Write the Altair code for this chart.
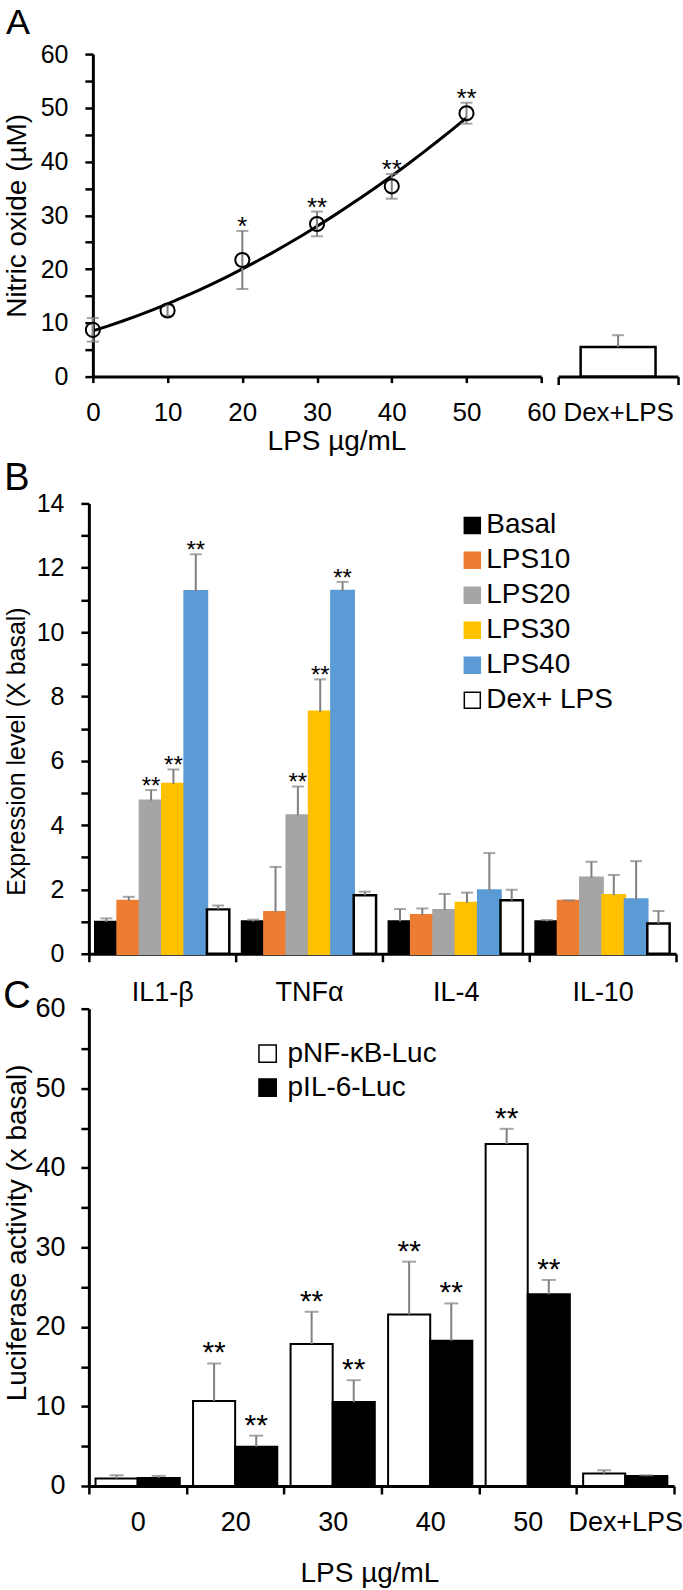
import altair as alt
import pandas as pd

FONT = "Liberation Sans"
GRAY = "#808080"
L = 89  # left edge of every plot area, in page pixels (used only for annotation offsets)

# ---------------- Panel A data ----------------
a_dose = [0, 10, 20, 30, 40, 50]
a_no = [8.7, 12.3, 21.7, 28.4, 35.4, 49.0]
a_sd = [2.2, 1.0, 5.4, 2.3, 2.3, 1.95]
a_sig = ["", "", "*", "**", "**", "**"]
a_dex_label = ["Dex+LPS"]
a_dex_no = [5.5]
a_dex_sd = [2.2]

# ---------------- Panel B data ----------------
b_genes = ["IL1-β", "TNFα", "IL-4", "IL-10"]
b_series = ["Basal", "LPS10", "LPS20", "LPS30", "LPS40", "Dex+ LPS"]
b_fill = ["#000000", "#ED7D31", "#A5A5A5", "#FFC000", "#5B9BD5", "#FFFFFF"]
b_stroke = ["#000000", "#ED7D31", "#A5A5A5", "#FFC000", "#5B9BD5", "#000000"]
b_mean_il1b = [0.99, 1.64, 4.76, 5.28, 11.27, 1.38]
b_mean_tnfa = [1.00, 1.29, 4.30, 7.52, 11.28, 1.82]
b_mean_il4 = [1.00, 1.20, 1.35, 1.58, 1.97, 1.66]
b_mean_il10 = [1.00, 1.64, 2.36, 1.82, 1.69, 0.94]
b_top_il1b = [1.10, 1.77, 5.09, 5.73, 12.42, 1.50]
b_top_tnfa = [1.06, 2.70, 5.20, 8.53, 11.56, 1.93]
b_top_il4 = [1.39, 1.41, 1.86, 1.90, 3.13, 1.99]
b_top_il10 = [1.05, 1.66, 2.86, 2.45, 2.88, 1.33]
b_sig_il1b = ["", "", "**", "**", "**", ""]
b_sig_tnfa = ["", "", "**", "**", "**", ""]
b_sig_il4 = ["", "", "", "", "", ""]
b_sig_il10 = ["", "", "", "", "", ""]

# ---------------- Panel C data ----------------
c_cats = ["0", "20", "30", "40", "50", "Dex+LPS"]
c_series = ["pNF-κB-Luc", "pIL-6-Luc"]
c_nfkb = [0.93, 10.68, 17.85, 21.56, 43.0, 1.56]
c_nfkb_top = [1.35, 15.4, 21.9, 28.2, 44.9, 1.98]
c_il6 = [1.01, 4.94, 10.55, 18.27, 24.1, 1.27]
c_il6_top = [1.27, 6.33, 13.3, 22.95, 25.9, 1.35]
c_sig_nfkb = ["", "**", "**", "**", "**", ""]
c_sig_il6 = ["", "**", "**", "**", "**", ""]

# ---------------- tables ----------------
dfA = pd.DataFrame({"dose": a_dose, "no": a_no, "sd": a_sd, "sig": a_sig})
dfA["lo"] = dfA["no"] - dfA["sd"]
dfA["hi"] = dfA["no"] + dfA["sd"]
dfAd = pd.DataFrame({"grp": a_dex_label, "no": a_dex_no, "sd": a_dex_sd})
dfAd["hi"] = dfAd["no"] + dfAd["sd"]

rows = []
for g, m, t, s in zip(b_genes,
                      [b_mean_il1b, b_mean_tnfa, b_mean_il4, b_mean_il10],
                      [b_top_il1b, b_top_tnfa, b_top_il4, b_top_il10],
                      [b_sig_il1b, b_sig_tnfa, b_sig_il4, b_sig_il10]):
    for ser, mv, tv, sv in zip(b_series, m, t, s):
        rows.append({"gene": g, "serB": ser, "meanB": mv, "topB": tv, "sigB": sv})
dfB = pd.DataFrame(rows)

rows = []
for ser, m, t, s in zip(c_series, [c_nfkb, c_il6], [c_nfkb_top, c_il6_top], [c_sig_nfkb, c_sig_il6]):
    for c, mv, tv, sv in zip(c_cats, m, t, s):
        rows.append({"cat": c, "serC": ser, "meanC": mv, "topC": tv, "sigC": sv})
dfC = pd.DataFrame(rows)


def letter(ch, dx, dy, size):
    return alt.Chart(pd.DataFrame({"t": [ch]})).mark_text(
        fontSize=size, font=FONT, align="center", baseline="alphabetic", color="black"
    ).encode(text="t:N", x=alt.value(dx), y=alt.value(dy))


# invisible anchor that pins the page's top-left corner (keeps the layout from shifting)
anchor = alt.Chart(pd.DataFrame({"v": [0]})).mark_rule(color="white", opacity=0).encode(
    x=alt.value(-L), x2=alt.value(-L + 1), y=alt.value(-53), y2=alt.value(-52))

# ---------------- Panel A ----------------
A_W, A_H = 590, 323
axAx = alt.Axis(values=list(range(0, 61, 10)), title="LPS µg/mL", orient="bottom",
                tickSize=6, labelPadding=17, labelFontSize=26, titleFontSize=28,
                titleX=248, titleY=65, titleBaseline="middle", labelFlush=False)
axAy = alt.Axis(values=list(range(0, 61, 5)), labelExpr="datum.value % 10 == 0 ? datum.label : ''",
                title="Nitric oxide (µM)", tickSize=8, labelPadding=17, labelFontSize=25,
                titleFontSize=28, titleX=26 - 93, titleY=161.5, titleBaseline="alphabetic", offset=-4)
xA = alt.X("dose:Q", scale=alt.Scale(domain=[0, 60], range=[4, 453], nice=False, zero=False), axis=axAx)
scA = alt.Scale(domain=[0, 60], nice=False)

lineA = alt.Chart(dfA).transform_regression(
    "dose", "no", method="poly", order=2, extent=[0, 50]
).mark_line(color="black", strokeWidth=3).encode(x=xA, y=alt.Y("no:Q", scale=scA, axis=axAy))
errA = alt.Chart(dfA).mark_rule(color=GRAY, strokeWidth=2).encode(
    x=xA, y=alt.Y("lo:Q", scale=scA, axis=axAy), y2="hi:Q")
capLoA = alt.Chart(dfA).mark_tick(color=GRAY, orient="horizontal", size=12, thickness=2).encode(
    x=xA, y=alt.Y("lo:Q", scale=scA, axis=axAy))
capHiA = alt.Chart(dfA).mark_tick(color=GRAY, orient="horizontal", size=12, thickness=2).encode(
    x=xA, y=alt.Y("hi:Q", scale=scA, axis=axAy))
ptsA = alt.Chart(dfA).mark_point(shape="circle", size=200, filled=False, color="black",
                                 strokeWidth=2, opacity=1).encode(
    x=xA, y=alt.Y("no:Q", scale=scA, axis=axAy))
sigA = alt.Chart(dfA).mark_text(fontSize=26, font=FONT, baseline="middle", dy=-4, color="black").encode(
    x=xA, y=alt.Y("hi:Q", scale=scA, axis=axAy), text="sig:N")

xAd = alt.X("grp:N", scale=alt.Scale(range=[470, 590], paddingInner=0, paddingOuter=0),
            axis=alt.Axis(title=None, orient="bottom", tickBand="extent", tickSize=8,
                          labelAngle=0, labelPadding=15, labelFontSize=26, labelFlush=False))
barAd = alt.Chart(dfAd).mark_bar(fill="white", stroke="black", strokeWidth=2.5,
                                 width=alt.RelativeBandSize(0.625)).encode(
    x=xAd, y=alt.Y("no:Q", scale=scA, axis=axAy))
errAd = alt.Chart(dfAd).mark_rule(color=GRAY, strokeWidth=2).encode(
    x=xAd, y=alt.Y("no:Q", scale=scA, axis=axAy), y2="hi:Q")
capAd = alt.Chart(dfAd).mark_tick(color=GRAY, orient="horizontal", size=12, thickness=2).encode(
    x=xAd, y=alt.Y("hi:Q", scale=scA, axis=axAy))

mainA = alt.layer(anchor, lineA, errA, capLoA, capHiA, ptsA, sigA, letter("A", 18 - L, 33 - 53, 36))
dexA = alt.layer(barAd, errAd, capAd)
chartA = alt.layer(mainA, dexA).resolve_scale(x="independent").resolve_axis(
    x="independent").properties(width=A_W, height=A_H)

spacer = alt.Chart(pd.DataFrame({"v": [0]})).mark_point(opacity=0).encode(
    x=alt.value(0), y=alt.value(0)).properties(width=1, height=17)

# ---------------- Panel B ----------------
B_W, B_H = 588, 451
legB = alt.Legend(title=None, orient="none", legendX=370, legendY=8, symbolType="square",
                  symbolSize=256, symbolStrokeWidth=1.5, labelFontSize=28, labelFont=FONT,
                  rowPadding=7, labelOffset=0, padding=0, labelColor="black")
xB = alt.X("gene:N", sort=b_genes, scale=alt.Scale(paddingInner=0, paddingOuter=0),
           axis=alt.Axis(title=None, tickBand="extent", labelAngle=0, tickSize=8,
                         labelPadding=18, labelFontSize=27))
xoB = alt.XOffset("serB:N", sort=b_series, scale=alt.Scale(domain=b_series, paddingInner=0, paddingOuter=0.285))
axBy = alt.Axis(values=list(range(0, 15)), labelExpr="datum.value % 2 == 0 ? datum.label : ''",
                title="Expression level (X basal)", tickSize=8, labelPadding=17, labelFontSize=25,
                titleFontSize=25, titleX=25 - L, titleY=248, titleBaseline="alphabetic")
scB = alt.Scale(domain=[0, 14], nice=False)

barsB = alt.Chart(dfB).mark_bar(strokeWidth=2.5).encode(
    x=xB, xOffset=xoB, y=alt.Y("meanB:Q", scale=scB, axis=axBy),
    fill=alt.Fill("serB:N", sort=b_series, scale=alt.Scale(domain=b_series, range=b_fill), legend=legB),
    stroke=alt.Stroke("serB:N", sort=b_series, scale=alt.Scale(domain=b_series, range=b_stroke), legend=legB),
)
errB = alt.Chart(dfB).mark_rule(color=GRAY, strokeWidth=2).encode(
    x=xB, xOffset=xoB, y=alt.Y("meanB:Q", scale=scB, axis=axBy), y2="topB:Q")
capB = alt.Chart(dfB).mark_tick(color=GRAY, orient="horizontal", size=12, thickness=2).encode(
    x=xB, xOffset=xoB, y=alt.Y("topB:Q", scale=scB, axis=axBy))
sigB = alt.Chart(dfB).mark_text(fontSize=24, font=FONT, baseline="middle", dy=-3, color="black").encode(
    x=xB, xOffset=xoB, y=alt.Y("topB:Q", scale=scB, axis=axBy), text="sigB:N")

chartB = alt.layer(barsB, errB, capB, sigB, letter("B", 17 - L, 490 - 503, 38)).properties(
    width=B_W, height=B_H)

# ---------------- Panel C ----------------
C_W, C_H = 586, 478
legC = alt.Legend(title=None, orient="none", legendX=165, legendY=31, symbolType="square",
                  symbolSize=300, symbolStrokeWidth=1.5, symbolStrokeColor="black",
                  labelFontSize=28, labelFont=FONT, rowPadding=6, labelOffset=6, padding=0,
                  labelColor="black")
xC = alt.X("cat:N", sort=c_cats, scale=alt.Scale(paddingInner=0, paddingOuter=0),
           axis=alt.Axis(title="LPS µg/mL", tickBand="extent", labelAngle=0, tickSize=8,
                         labelPadding=16, labelFontSize=27, titleFontSize=28,
                         titleX=281, titleY=88, titleBaseline="middle"))
xoC = alt.XOffset("serC:N", sort=c_series, scale=alt.Scale(domain=c_series, paddingInner=0, paddingOuter=0.158))
axCy = alt.Axis(values=list(range(0, 61, 5)), labelExpr="datum.value % 10 == 0 ? datum.label : ''",
                title="Luciferase activity (x basal)", tickSize=8, labelPadding=16, labelFontSize=27,
                titleFontSize=28, titleX=26 - L, titleY=224, titleBaseline="alphabetic")
scC = alt.Scale(domain=[0, 60], nice=False)

barsC = alt.Chart(dfC).mark_bar(stroke="black", strokeWidth=2).encode(
    x=xC, xOffset=xoC, y=alt.Y("meanC:Q", scale=scC, axis=axCy),
    fill=alt.Fill("serC:N", sort=c_series,
                  scale=alt.Scale(domain=c_series, range=["#FFFFFF", "#000000"]), legend=legC),
)
errC = alt.Chart(dfC).mark_rule(color=GRAY, strokeWidth=2).encode(
    x=xC, xOffset=xoC, y=alt.Y("meanC:Q", scale=scC, axis=axCy), y2="topC:Q")
capC = alt.Chart(dfC).mark_tick(color=GRAY, orient="horizontal", size=14, thickness=2).encode(
    x=xC, xOffset=xoC, y=alt.Y("topC:Q", scale=scC, axis=axCy))
sigC = alt.Chart(dfC).mark_text(fontSize=30, font=FONT, baseline="middle", dy=-10, color="black").encode(
    x=xC, xOffset=xoC, y=alt.Y("topC:Q", scale=scC, axis=axCy), text="sigC:N")

chartC = alt.layer(barsC, errC, capC, sigC, letter("C", 17 - L, -1, 38)).properties(width=C_W, height=C_H)

chart = alt.vconcat(chartA, spacer, chartB, chartC, spacing=55, bounds="flush").resolve_scale(
    fill="independent", stroke="independent", xOffset="independent"
).resolve_legend(fill="independent", stroke="independent").properties(
    padding={"left": 0, "top": 0, "right": 0, "bottom": 0}
).configure_view(stroke=None).configure_axis(
    domainColor="black", domainWidth=3, tickColor="black", tickWidth=2.5,
    labelColor="black", titleColor="black", labelFont=FONT, titleFont=FONT,
    titleFontWeight="normal", labelFontWeight="normal", grid=False, labelOverlap=False
).configure_text(font=FONT)

chart.save("out.html", embed_options={"renderer": "svg", "actions": False})
